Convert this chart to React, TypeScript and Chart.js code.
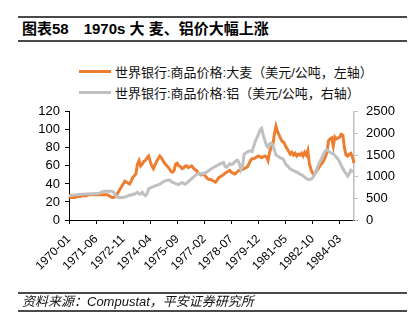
import React, { useEffect, useRef } from "react";
import { Chart, registerables } from "chart.js";

Chart.register(...registerables);

// Monthly categories 1970-01 .. 1984-12
const months: string[] = [];
for (let y = 1970; y <= 1984; y++) {
  for (let m = 1; m <= 12; m++) months.push(`${y}-${String(m).padStart(2, "0")}`);
}

// Barley price, USD/ton (left axis)
const barley: number[] = [
  26, 25, 26, 25, 25, 26, 26, 26, 27, 27,
  27, 27, 28, 28, 28, 28, 28, 28, 28, 28,
  28, 28, 28, 28, 28, 27, 26, 25, 25, 26,
  28, 31, 34, 37, 40, 43, 42, 41, 40, 43,
  47, 49, 51, 62, 66, 60, 62, 65, 66, 69,
  71, 65, 60, 57, 61, 65, 68, 71, 69, 66,
  63, 61, 59, 57, 54, 53, 55, 62, 63, 60,
  59, 57, 58, 60, 60, 58, 59, 60, 58, 56,
  55, 52, 51, 50, 51, 50, 48, 46, 45, 45,
  44, 43, 42, 44, 47, 48, 49, 50, 52, 53,
  54, 55, 53, 52, 51, 52, 54, 55, 56, 56,
  57, 58, 59, 62, 66, 68, 68, 69, 70, 71,
  70, 69, 70, 71, 70, 66, 75, 81, 83, 95,
  104, 98, 94, 90, 87, 86, 82, 79, 76, 73,
  75, 72, 74, 71, 73, 72, 74, 71, 75, 72,
  77, 62, 56, 52, 50, 53, 56, 58, 61, 63,
  66, 70, 75, 88, 90, 91, 82, 92, 90, 91,
  92, 95, 94, 80, 72, 71, 73, 74, 70, 63,
];

// Aluminium price, USD/ton (right axis)
const aluminium: number[] = [
  560, 565, 570, 575, 580, 585, 590, 590, 595, 595,
  600, 600, 600, 605, 600, 605, 610, 605, 610, 615,
  640, 655, 660, 665, 670, 660, 670, 665, 640, 580,
  540, 520, 515, 520, 520, 530, 540, 555, 580, 570,
  600, 590, 620, 640, 600, 600, 640, 590, 560, 600,
  720, 740, 760, 770, 790, 800, 810, 830, 850, 880,
  900, 910, 920, 925, 900, 870, 860, 840, 830, 820,
  850, 865, 840, 825, 860, 890, 920, 950, 990, 1020,
  1050, 1070, 1075, 1060, 1080, 1075, 1100, 1120, 1150, 1170,
  1200, 1220, 1240, 1260, 1280, 1300, 1310, 1330, 1240, 1220,
  1260, 1300, 1280, 1300, 1340, 1370, 1380, 1300, 1160, 1250,
  1520, 1550, 1570, 1590, 1600, 1580, 1700, 1820, 1900, 1980,
  2080, 2120, 1960, 1840, 1720, 1680, 1760, 1780, 1720, 1620,
  1500, 1480, 1455, 1430, 1420, 1380, 1290, 1260, 1220, 1180,
  1160, 1140, 1120, 1110, 1090, 1060, 1050, 1020, 990, 960,
  940, 930, 950, 970, 1040, 1120, 1220, 1300, 1380, 1450,
  1530, 1600, 1620, 1590, 1560, 1540, 1530, 1490, 1450, 1400,
  1340, 1260, 1190, 1120, 1080, 1010, 1060, 1150, 1130, 1120,
];

const leftTicks = { min: 0, max: 120, step: 20 };
const rightTicks = { min: 0, max: 2500, step: 500 };
const labelEvery = 17;

const seriesNames = [
  "世界银行:商品价格:大麦（美元/公吨，左轴）",
  "世界银行:商品价格:铝（美元/公吨，右轴）",
];
const title = "图表58　1970s 大 麦、铝价大幅上涨";
const source = "资料来源：Compustat，平安证券研究所";

const ORANGE = "#ED7D31";
const GRAY = "#C0C0C0";
const FONT = "'Liberation Sans', 'Noto Sans CJK SC', Arial, sans-serif";

export default function App() {
  const ref = useRef<HTMLCanvasElement>(null);

  useEffect(() => {
    const chart = new Chart(ref.current!, {
      type: "line",
      data: {
        labels: months,
        datasets: [
          {
            label: seriesNames[0],
            data: barley,
            borderColor: ORANGE,
            backgroundColor: ORANGE,
            borderWidth: 3,
            pointRadius: 0,
            tension: 0,
            yAxisID: "y",
            order: 1,
          },
          {
            label: seriesNames[1],
            data: aluminium,
            borderColor: GRAY,
            backgroundColor: GRAY,
            borderWidth: 3,
            pointRadius: 0,
            tension: 0,
            yAxisID: "y1",
            order: 0,
          },
        ],
      },
      options: {
        animation: false,
        responsive: false,
        maintainAspectRatio: false,
        layout: { padding: { top: 12, left: 0, right: 0, bottom: 0 } },
        plugins: { legend: { display: false }, tooltip: { enabled: false } },
        scales: {
          x: {
            ticks: {
              autoSkip: false,
              maxRotation: 45,
              minRotation: 45,
              padding: 8,
              color: "#000",
              font: { size: 12, family: FONT },
              callback: (_v: any, i: number) => (i % labelEvery === 0 ? months[i] : null),
            },
            grid: { drawOnChartArea: false, drawTicks: true, tickLength: 4, color: "#000" },
            border: { color: "#000", width: 1 },
            afterFit: (s: any) => {
              s.height = 76;
            },
          },
          y: {
            position: "left",
            min: leftTicks.min,
            max: leftTicks.max,
            ticks: {
              stepSize: leftTicks.step,
              autoSkip: false,
              padding: 5,
              color: "#000",
              font: { size: 13, family: FONT },
              callback: (v: any) => String(v),
            },
            grid: { drawOnChartArea: false, drawTicks: true, tickLength: 4, color: "#000" },
            border: { color: "#000", width: 1 },
            afterFit: (s: any) => {
              s.width = 69;
            },
          },
          y1: {
            position: "right",
            min: rightTicks.min,
            max: rightTicks.max,
            ticks: {
              stepSize: rightTicks.step,
              autoSkip: false,
              padding: 8,
              color: "#000",
              font: { size: 13, family: FONT },
              callback: (v: any) => String(v),
            },
            grid: { drawOnChartArea: false, drawTicks: true, tickLength: 4, color: GRAY },
            border: { color: GRAY, width: 1.5 },
            afterFit: (s: any) => {
              s.width = 61;
            },
          },
        },
      },
    });
    return () => chart.destroy();
  }, []);

  const line = (top: number, h: number) => (
    <div style={{ position: "absolute", left: 18, top, width: 389, height: h, background: "#4a4a4a" }} />
  );

  const legendRow = (top: number, color: string, text: string) => (
    <div style={{ position: "absolute", left: 79, top, height: 20, display: "flex", alignItems: "center" }}>
      <div style={{ width: 32, height: 3, background: color, marginRight: 4 }} />
      <span style={{ fontSize: 13, fontFamily: FONT, color: "#111", whiteSpace: "nowrap" }}>{text}</span>
    </div>
  );

  return (
    <div style={{ position: "fixed", left: 0, top: 0, width: 415, height: 335, background: "#fff", overflow: "hidden" }}>
      {line(16, 2)}
      <div
        style={{
          position: "absolute",
          left: 22,
          top: 19,
          fontSize: 15,
          fontWeight: "bold",
          fontFamily: FONT,
          color: "#000",
          whiteSpace: "pre",
          lineHeight: "20px",
        }}
      >
        {title}
      </div>
      {line(40, 2)}
      {legendRow(61, ORANGE, seriesNames[0])}
      {legendRow(82, GRAY, seriesNames[1])}
      <canvas ref={ref} width={415} height={200} style={{ position: "absolute", left: 0, top: 96, width: 415, height: 200 }} />
      {line(292, 2)}
      <div
        style={{
          position: "absolute",
          left: 22,
          top: 294,
          fontSize: 13,
          fontStyle: "italic",
          fontFamily: FONT,
          color: "#111",
          whiteSpace: "nowrap",
          lineHeight: "16px",
        }}
      >
        {source}
      </div>
      {line(310, 2)}
    </div>
  );
}
